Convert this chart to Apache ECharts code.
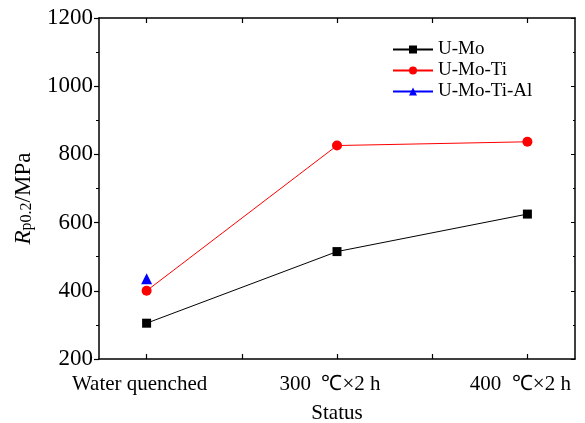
<!DOCTYPE html>
<html>
<head>
<meta charset="utf-8">
<script src="https://cdn.jsdelivr.net/npm/echarts@6/dist/echarts.min.js"></script>
<style>
  html, body { margin: 0; padding: 0; background: #fff; }
  #chart { width: 585px; height: 423px; }
</style>
</head>
<body>
<div id="chart"></div>
<script>
// categories (placed at x = 1, 2, 3 on a value axis)
const categories = ['Water quenched', '300  ℃×2 h', '400  ℃×2 h'];
const catPos = [1, 2, 3];
const tickPos = [1, 1.5, 2, 2.5, 3];

// Rp0.2 values, MPa
const uMo = [305, 515, 625];
const uMoTi = [400, 826, 837];
const uMoTiAl = [435];

const yTicks = [200, 400, 600, 800, 1000, 1200];

const font = 'Liberation Serif, Times New Roman, serif';

const chart = echarts.init(document.getElementById('chart'));

function xAxis(pos, showLabel) {
  return {
    type: 'value',
    position: pos,
    min: 0.75,
    max: 3.25,
    axisLine: { show: true, onZero: false, lineStyle: { color: '#000', width: 1.5 } },
    splitLine: { show: false },
    axisTick: { show: true, inside: true, length: 5, customValues: tickPos, lineStyle: { color: '#000', width: 1.2 } },
    axisLabel: {
      show: showLabel,
      customValues: catPos,
      margin: 15,
      padding: [0, 14, 0, 0],
      fontFamily: font,
      fontSize: 21,
      color: '#000',
      formatter: v => categories[Math.round(v) - 1] || ''
    }
  };
}

const option = {
  animation: false,
  backgroundColor: '#fff',
  grid: { left: 99, right: 10, top: 18, bottom: 64, outerBoundsMode: 'none' },
  legend: {
    orient: 'vertical',
    left: 387,
    top: 35,
    itemWidth: 40,
    itemHeight: 10,
    itemGap: 2,
    textStyle: { fontFamily: font, fontSize: 19, color: '#000' },
    data: ['U-Mo', 'U-Mo-Ti', 'U-Mo-Ti-Al']
  },
  xAxis: [
    Object.assign(xAxis('bottom', true), {
      name: 'Status',
      nameLocation: 'middle',
      nameGap: 44,
      nameTextStyle: { fontFamily: font, fontSize: 21, color: '#000' }
    }),
    xAxis('top', false)
  ],
  yAxis: [
    {
      type: 'value',
      position: 'left',
      min: 200,
      max: 1200,
      interval: 200,
      axisLine: { show: true, lineStyle: { color: '#000', width: 1.5 } },
      splitLine: { show: false },
      axisTick: { show: true, inside: false, length: 5, lineStyle: { color: '#000', width: 1.2 } },
      minorTick: { show: true, splitNumber: 2, length: 3, lineStyle: { color: '#000', width: 1 } },
      axisLabel: {
        margin: 6,
        fontFamily: font,
        fontSize: 23,
        color: '#000',
        formatter: v => (yTicks.includes(v) ? String(v) : '')
      },
      name: '{i|R}{s|p0.2}{n|/MPa}',
      nameLocation: 'middle',
      nameGap: 64,
      nameTextStyle: {
        rich: {
          i: { fontFamily: font, fontStyle: 'italic', fontSize: 23, color: '#000', verticalAlign: 'bottom', lineHeight: 25 },
          s: { fontFamily: font, fontSize: 16, color: '#000', verticalAlign: 'bottom', lineHeight: 16, padding: [7, 0, 0, 0] },
          n: { fontFamily: font, fontSize: 23, color: '#000', verticalAlign: 'bottom', lineHeight: 25, padding: [0, 20, 0, 0] }
        }
      }
    },
    {
      type: 'value',
      position: 'right',
      min: 200,
      max: 1200,
      interval: 200,
      axisLine: { show: true, lineStyle: { color: '#000', width: 1.5 } },
      splitLine: { show: false },
      axisTick: { show: true, inside: true, length: 4, lineStyle: { color: '#000', width: 1 } },
      minorTick: { show: true, splitNumber: 2, length: 2, lineStyle: { color: '#000', width: 1 } },
      axisLabel: { show: false }
    }
  ],
  series: [
    {
      name: 'U-Mo',
      type: 'line',
      data: catPos.map((x, i) => [x, uMo[i]]),
      symbol: 'rect',
      symbolSize: 9,
      itemStyle: { color: '#000' },
      lineStyle: { color: '#000', width: 1 }
    },
    {
      name: 'U-Mo-Ti',
      type: 'line',
      data: catPos.map((x, i) => [x, uMoTi[i]]),
      symbol: 'circle',
      symbolSize: 10,
      itemStyle: { color: '#ff0000' },
      lineStyle: { color: '#ff0000', width: 1 }
    },
    {
      name: 'U-Mo-Ti-Al',
      type: 'line',
      data: uMoTiAl.map((v, i) => [catPos[i], v]),
      symbol: 'triangle',
      symbolSize: 11,
      itemStyle: { color: '#0000ff' },
      lineStyle: { color: '#0000ff', width: 1 }
    }
  ]
};

chart.setOption(option);
</script>
</body>
</html>
